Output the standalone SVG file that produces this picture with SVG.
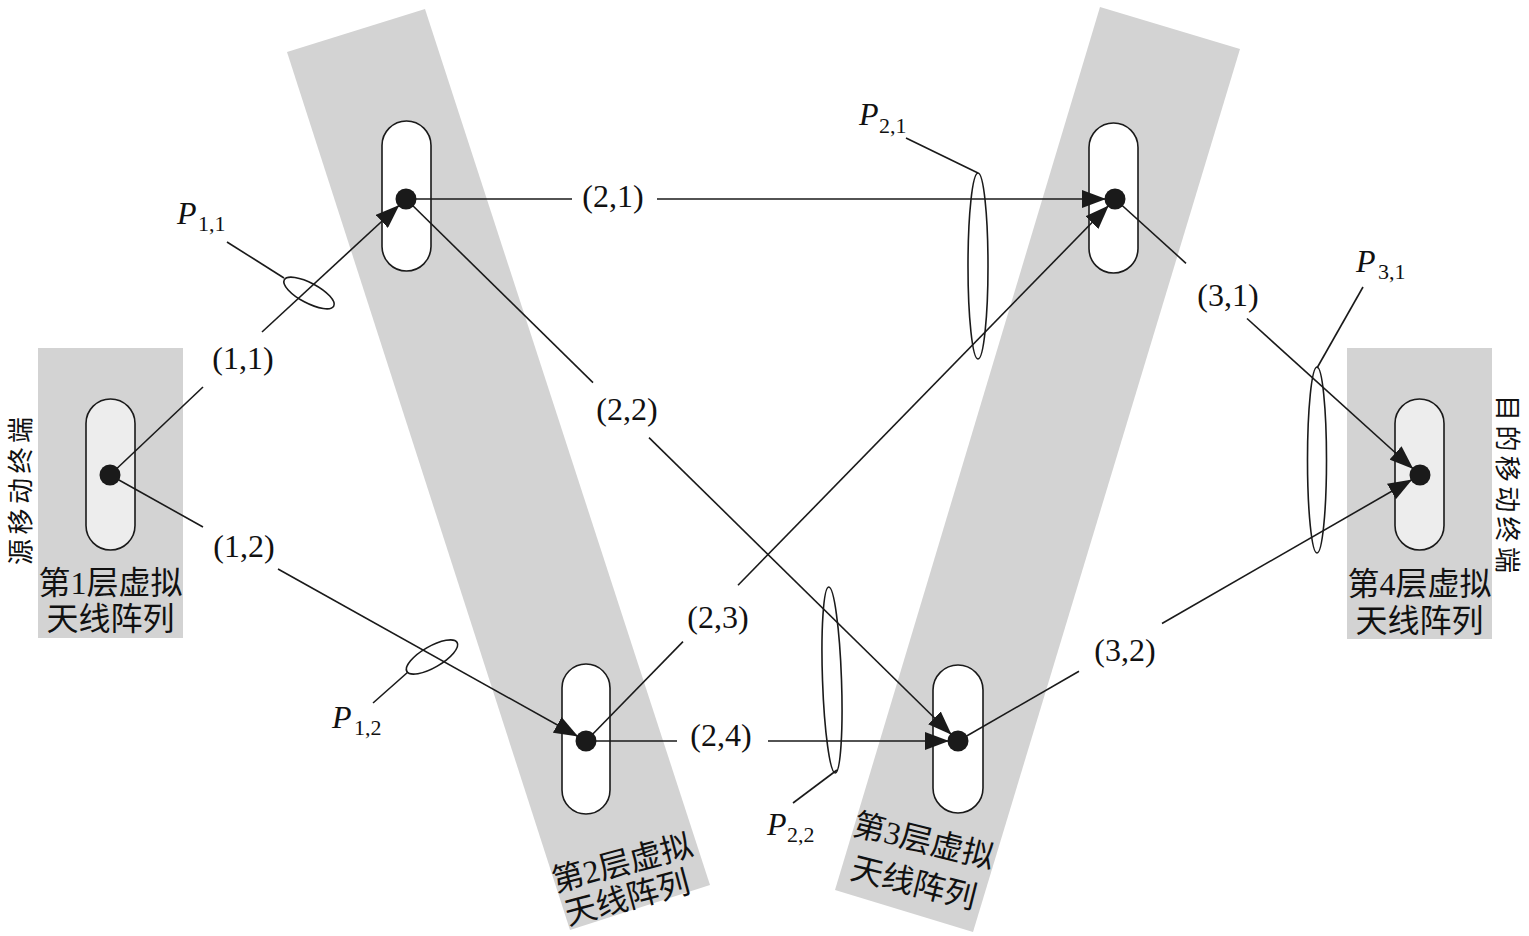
<svg xmlns="http://www.w3.org/2000/svg" width="1529" height="936" viewBox="0 0 1529 936">
<style>
.band{fill:#d3d3d3;stroke:none}
.cap{fill:#ffffff;stroke:#1a1a1a;stroke-width:1.6}
.cap2{fill:#ededed;stroke:#1a1a1a;stroke-width:1.6}
.dot{fill:#1a1a1a}
.ln{stroke:#1a1a1a;stroke-width:1.6;fill:none}
.arr{stroke:#1a1a1a;stroke-width:1.6;fill:none;marker-end:url(#ah)}
.ell{fill:none;stroke:#1a1a1a;stroke-width:1.6}
.lbl{font-family:"Liberation Serif",serif;font-size:32px;fill:#111;text-anchor:middle}
.cjk{font-family:"Liberation Serif","Noto Sans CJK SC",sans-serif;font-size:32px;fill:#111;text-anchor:middle}
.vt{font-family:"Noto Sans CJK SC",sans-serif;font-size:26px;fill:#111;text-anchor:middle}
.p{font-family:"Liberation Serif",serif;font-style:italic;font-size:32px;fill:#111}
.sub{font-family:"Liberation Serif",serif;font-size:22px;fill:#111}
</style>
<defs>
<marker id="ah" markerUnits="userSpaceOnUse" viewBox="0 0 24 18" markerWidth="24" markerHeight="18" refX="33" refY="9" orient="auto">
<path d="M0,0 L24,9 L0,18 z" fill="#1a1a1a"/>
</marker>
</defs>

<g id="layer1">
<rect class="band" x="38" y="348" width="145" height="290"/>
<rect class="cap2" x="86" y="399" width="49" height="151" rx="24.5"/>
<text class="cjk" x="110.5" y="594">第1层虚拟</text>
<text class="cjk" x="110.5" y="630">天线阵列</text>
<text class="vt" transform="translate(30,491) rotate(-90)" textLength="148" lengthAdjust="spacing">源移动终端</text>
</g>

<g id="layer2">
<polygon class="band" points="287,52 425,9 710,885 570,930"/>
<rect class="cap" x="382" y="121" width="49" height="150" rx="24.5"/>
<rect class="cap" x="562" y="664" width="48" height="150" rx="24"/>
<text class="cjk" transform="translate(622,862) rotate(-15)" y="12">第2层虚拟</text>
<text class="cjk" transform="translate(627,897) rotate(-15)" y="12">天线阵列</text>
</g>

<g id="layer3">
<polygon class="band" points="1100,7 1240,49 973,932 835,890"/>
<rect class="cap" x="1089" y="123" width="49" height="150" rx="24.5"/>
<rect class="cap" x="933" y="665" width="50" height="148" rx="25"/>
<text class="cjk" transform="translate(924,840) rotate(14)" y="12">第3层虚拟</text>
<text class="cjk" transform="translate(914,882) rotate(14)" y="12">天线阵列</text>
</g>

<g id="layer4">
<rect class="band" x="1347" y="348" width="145" height="291"/>
<rect class="cap2" x="1395" y="399" width="49" height="151" rx="24.5"/>
<text class="cjk" x="1419.5" y="595">第4层虚拟</text>
<text class="cjk" x="1419.5" y="632">天线阵列</text>
<text class="vt" transform="translate(1498,484) rotate(90)" textLength="178" lengthAdjust="spacing">目的移动终端</text>
</g>

<g id="connectors">
<line class="ln" x1="110" y1="475" x2="203" y2="387"/>
<line class="arr" x1="262" y1="332" x2="406" y2="199"/>
<line class="ln" x1="110" y1="475" x2="203" y2="527"/>
<line class="arr" x1="278" y1="569" x2="586" y2="741"/>
<line class="ln" x1="406" y1="199" x2="572" y2="199"/>
<line class="arr" x1="657" y1="199" x2="1115" y2="199"/>
<line class="ln" x1="406" y1="199" x2="593" y2="382.6"/>
<line class="arr" x1="649" y1="437.6" x2="958" y2="741"/>
<line class="ln" x1="586" y1="741" x2="683" y2="641.6"/>
<line class="arr" x1="738" y1="585.3" x2="1115" y2="199"/>
<line class="ln" x1="586" y1="741" x2="677" y2="741"/>
<line class="arr" x1="768" y1="741" x2="958" y2="741"/>
<line class="ln" x1="1115" y1="199" x2="1186" y2="263.3"/>
<line class="arr" x1="1247" y1="318.5" x2="1420" y2="475"/>
<line class="ln" x1="958" y1="741" x2="1079" y2="671.3"/>
<line class="arr" x1="1162" y1="623.5" x2="1420" y2="475"/>
<text class="lbl" x="243" y="369">(1,1)</text>
<text class="lbl" x="244" y="557">(1,2)</text>
<text class="lbl" x="613" y="207">(2,1)</text>
<text class="lbl" x="627" y="420">(2,2)</text>
<text class="lbl" x="718" y="628">(2,3)</text>
<text class="lbl" x="721" y="746">(2,4)</text>
<text class="lbl" x="1228" y="306">(3,1)</text>
<text class="lbl" x="1125" y="661">(3,2)</text>
</g>

<g id="dots">
<circle class="dot" cx="110" cy="475" r="10.5"/>
<circle class="dot" cx="406" cy="199" r="10.5"/>
<circle class="dot" cx="586" cy="741" r="10.5"/>
<circle class="dot" cx="1115" cy="199" r="10.5"/>
<circle class="dot" cx="958" cy="741" r="10.5"/>
<circle class="dot" cx="1420" cy="475" r="10.5"/>
</g>

<g id="P11">
<ellipse class="ell" cx="309" cy="293" rx="28" ry="10" transform="rotate(28 309 293)"/>
<line class="ln" x1="227" y1="242" x2="284" y2="278"/>
<text class="p" x="177" y="224">P</text>
<text class="sub" x="198" y="231">1,1</text>
</g>
<g id="P12">
<ellipse class="ell" cx="432" cy="657" rx="29" ry="10.5" transform="rotate(-30 432 657)"/>
<line class="ln" x1="373" y1="703" x2="408" y2="672"/>
<text class="p" x="332" y="728">P</text>
<text class="sub" x="354" y="735">1,2</text>
</g>
<g id="P21">
<ellipse class="ell" cx="978" cy="266" rx="10" ry="93"/>
<line class="ln" x1="906" y1="138" x2="978" y2="173"/>
<text class="p" x="859" y="125">P</text>
<text class="sub" x="879" y="133">2,1</text>
</g>
<g id="P22">
<ellipse class="ell" cx="832" cy="680" rx="9.5" ry="93" transform="rotate(-2 832 680)"/>
<line class="ln" x1="837" y1="770" x2="793" y2="803"/>
<text class="p" x="767" y="835">P</text>
<text class="sub" x="787" y="842">2,2</text>
</g>
<g id="P31">
<ellipse class="ell" cx="1317" cy="460" rx="9.5" ry="93"/>
<line class="ln" x1="1363" y1="287" x2="1317" y2="368"/>
<text class="p" x="1356" y="272">P</text>
<text class="sub" x="1378" y="279">3,1</text>
</g>
</svg>
